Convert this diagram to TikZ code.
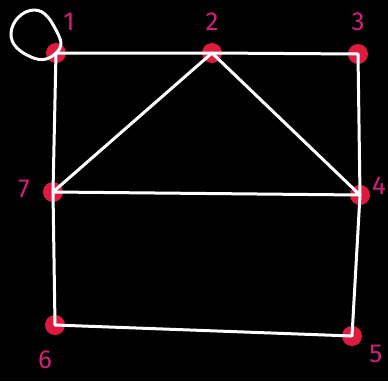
\documentclass[tikz,border=0pt]{standalone}
\usepackage{fontspec}
\setmainfont{Fira Sans}
\definecolor{dotred}{HTML}{E0193F}
\definecolor{lblpink}{HTML}{D81B7E}
\tikzset{
  vdot/.style={circle,fill=dotred,minimum size=20pt,inner sep=0pt},
  edge/.style={draw=white,line width=3pt,line join=round,line cap=round},
  lbl/.style={text=lblpink,font=\fontsize{26}{26}\selectfont,inner sep=0pt}
}
\begin{document}
\begin{tikzpicture}[x=1pt,y=-1pt]
\fill[black] (0,0) rectangle (388,381);
\useasboundingbox (0,0) rectangle (388,381);
% vertices
\node[vdot] (v1) at (56,53) {};
\node[vdot] (v2) at (212,53) {};
\node[vdot] (v3) at (358,54) {};
\node[vdot] (v4) at (360,195) {};
\node[vdot] (v5) at (352,336) {};
\node[vdot] (v6) at (55,325) {};
\node[vdot] (v7) at (53,192) {};
% labels
\node[lbl] (l1) at (69,22) {1};
\node[lbl] (l2) at (212,22) {2};
\node[lbl] (l3) at (358,22) {3};
\node[lbl] (l4) at (379,186) {4};
\node[lbl] (l5) at (376,354) {5};
\node[lbl] (l6) at (45,360) {6};
\node[lbl] (l7) at (24,189) {7};
% edges
\path[edge] (v1.center) -- (v2.center) -- (v3.center) -- (v4.center) -- (v5.center) -- (v6.center) -- (v7.center) -- cycle;
\path[edge] (v7.center) -- (v2.center) -- (v4.center) -- (v7.center);
\path[edge] plot[smooth cycle,tension=0.9] coordinates {(v1.center) (57,32) (34,10) (11,33) (31,57)};
\end{tikzpicture}
\end{document}
